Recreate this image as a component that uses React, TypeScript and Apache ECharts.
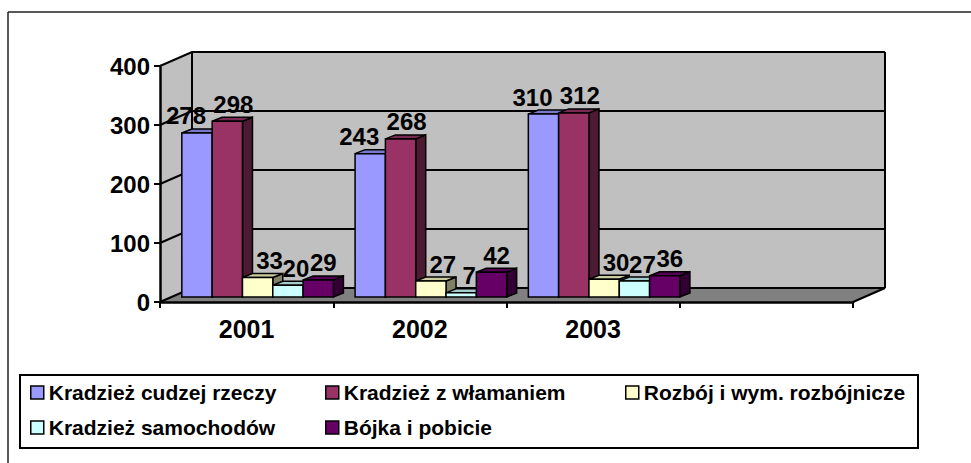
import React, { useEffect, useRef } from 'react';
import * as echarts from 'echarts';

const categories = ['2001', '2002', '2003', ''];
const seriesNames = [
  'Kradzież cudzej rzeczy',
  'Kradzież z włamaniem',
  'Rozbój i wym. rozbójnicze',
  'Kradzież samochodów',
  'Bójka i pobicie',
];
const kradziezCudzejRzeczy = [278, 243, 310];
const kradziezZWlamaniem = [298, 268, 312];
const rozbojIWym = [33, 27, 30];
const kradziezSamochodow = [20, 7, 27];
const bojkaIPobicie = [29, 42, 36];
const yTickValues = [0, 100, 200, 300, 400];
const seriesColors = ['#9999FF', '#993366', '#FFFFCC', '#CCFFFF', '#660066'];

const allValues = [kradziezCudzejRzeczy, kradziezZWlamaniem, rozbojIWym, kradziezSamochodow, bojkaIPobicie];

const FONT = '"Liberation Sans", Arial, sans-serif';
const FRONT_DX = 11;
const FRONT_DY = -5;
const BAR_DX = 10;
const BAR_DY = -4;
const WALL_DX = 32;
const WALL_DY = -14;
// horizontal nudge of each series' value labels (style, not data)
const LABEL_SHIFT = [-11, 6, 12, 8, 5];

function shade(hex: string, f: number): string {
  const n = parseInt(hex.slice(1), 16);
  const r = Math.round(((n >> 16) & 255) * f);
  const g = Math.round(((n >> 8) & 255) * f);
  const b = Math.round((n & 255) * f);
  return `rgb(${r},${g},${b})`;
}

export default function App() {
  const ref = useRef<HTMLDivElement>(null);
  useEffect(() => {
    if (!ref.current) return;
    const chart = echarts.init(ref.current, null, { renderer: 'svg' });

    const wallSeries: any = {
      type: 'custom',
      name: 'walls',
      z: 1,
      silent: true,
      clip: false,
      data: [[0, 0]],
      encode: { x: 0, y: 1 },
      renderItem: (params: any, api: any) => {
        const cs = params.coordSys;
        const cx = cs.x, cy = cs.y, cw = cs.width, ch = cs.height;
        const children: any[] = [];
        const stroke = { stroke: '#000', lineWidth: 2, fill: 'none' };
        children.push({
          type: 'polygon',
          shape: { points: [[cx, cy], [cx + WALL_DX, cy + WALL_DY], [cx + WALL_DX, cy + ch + WALL_DY], [cx, cy + ch]] },
          style: { fill: '#C0C0C0' },
        });
        children.push({
          type: 'rect',
          shape: { x: cx + WALL_DX, y: cy + WALL_DY, width: cw, height: ch },
          style: { fill: '#C0C0C0' },
        });
        children.push({
          type: 'polygon',
          shape: { points: [[cx, cy + ch], [cx + cw, cy + ch], [cx + cw + WALL_DX, cy + ch + WALL_DY], [cx + WALL_DX, cy + ch + WALL_DY]] },
          style: { fill: '#808080' },
        });
        yTickValues.forEach((v) => {
          if (v === 0) return;
          const y = api.coord([0, v])[1];
          children.push({
            type: 'polyline',
            shape: { points: [[cx, y], [cx + WALL_DX, y + WALL_DY], [cx + cw + WALL_DX, y + WALL_DY]] },
            style: stroke,
          });
        });
        children.push({
          type: 'polyline',
          shape: { points: [[cx + WALL_DX, cy + WALL_DY], [cx + WALL_DX, cy + ch + WALL_DY]] },
          style: stroke,
        });
        children.push({
          type: 'polyline',
          shape: { points: [[cx + cw + WALL_DX, cy + WALL_DY], [cx + cw + WALL_DX, cy + ch + WALL_DY]] },
          style: stroke,
        });
        children.push({
          type: 'polyline',
          shape: { points: [[cx, cy + ch], [cx + WALL_DX, cy + ch + WALL_DY], [cx + cw + WALL_DX, cy + ch + WALL_DY], [cx + cw, cy + ch]] },
          style: stroke,
        });
        return { type: 'group', children };
      },
    };

    const barSeries = seriesNames.map((name, k) => {
      const color = seriesColors[k];
      const topColor = shade(color, 0.8);
      const sideColor = shade(color, 0.5);
      return {
        type: 'custom',
        name,
        z: 2,
        clip: false,
        itemStyle: { color, borderColor: '#000', borderWidth: 1.5 },
        encode: { x: 0, y: 1 },
        data: allValues[k].map((v, i) => [i, v]),
        renderItem: (params: any, api: any) => {
          const ci = api.value(0);
          const v = api.value(1);
          const base = api.coord([ci, 0]);
          const top = api.coord([ci, v]);
          const band = api.size([1, 0])[0];
          const bw = (band * 0.875) / 5;
          const x0 = base[0] - bw * 2.5 + k * bw + FRONT_DX;
          const yb = base[1] + FRONT_DY;
          const yt = top[1] + FRONT_DY;
          const ln = { stroke: '#000', lineWidth: 1.5 };
          return {
            type: 'group',
            children: [
              {
                type: 'polygon',
                shape: { points: [[x0 + bw, yt], [x0 + bw, yb], [x0 + bw + BAR_DX, yb + BAR_DY], [x0 + bw + BAR_DX, yt + BAR_DY]] },
                style: { fill: sideColor, ...ln },
              },
              {
                type: 'polygon',
                shape: { points: [[x0, yt], [x0 + bw, yt], [x0 + bw + BAR_DX, yt + BAR_DY], [x0 + BAR_DX, yt + BAR_DY]] },
                style: { fill: topColor, ...ln },
              },
              {
                type: 'rect',
                shape: { x: x0, y: yt, width: bw, height: yb - yt },
                style: { fill: color, ...ln },
              },
              {
                type: 'text',
                z2: 100,
                style: {
                  text: String(v),
                  x: x0 + bw / 2 + LABEL_SHIFT[k],
                  y: yt + BAR_DY - 1,
                  align: 'center',
                  verticalAlign: 'bottom',
                  fontSize: 24,
                  fontWeight: 'bold',
                  fontFamily: FONT,
                  fill: '#000',
                },
              },
            ],
          };
        },
      };
    });

    const legendCommon = {
      orient: 'vertical',
      top: 382,
      padding: 0,
      itemGap: 14,
      itemWidth: 13,
      itemHeight: 13,
      icon: 'rect',
      itemStyle: { borderColor: '#000', borderWidth: 1.5 },
      textStyle: { fontSize: 21, fontWeight: 'bold', fontFamily: FONT, color: '#000', lineHeight: 21, padding: [0, 0, 0, 0] },
      selectedMode: false,
    };

    chart.setOption({
      animation: false,
      backgroundColor: '#fff',
      grid: { left: 160, top: 66, width: 693, height: 236, containLabel: false },
      xAxis: {
        type: 'category',
        data: categories,
        z: 10,
        axisLine: { show: true, lineStyle: { color: '#000', width: 2.5 } },
        axisTick: { show: true, length: 6, interval: 0, alignWithLabel: false, lineStyle: { color: '#000', width: 2 } },
        axisLabel: { fontSize: 25, fontWeight: 'bold', fontFamily: FONT, color: '#000', margin: 14, interval: 0 },
        splitLine: { show: false },
      },
      yAxis: {
        type: 'value',
        min: 0,
        max: 400,
        interval: 100,
        z: 10,
        axisLine: { show: true, lineStyle: { color: '#000', width: 2.5 } },
        axisTick: { show: true, length: 6, lineStyle: { color: '#000', width: 2 } },
        axisLabel: { fontSize: 24, fontWeight: 'bold', fontFamily: FONT, color: '#000', margin: 10 },
        splitLine: { show: false },
      },
      legend: [
        { ...legendCommon, left: 30, data: [seriesNames[0], seriesNames[3]] },
        { ...legendCommon, left: 325, data: [seriesNames[1], seriesNames[4]] },
        { ...legendCommon, left: 625, data: [seriesNames[2]] },
      ],
      graphic: [
        { type: 'rect', shape: { x: 20, y: 375, width: 898, height: 73 }, style: { fill: 'none', stroke: '#000', lineWidth: 2 } },
        { type: 'line', shape: { x1: 8, y1: 12, x2: 971, y2: 12 }, style: { stroke: '#222', lineWidth: 1.5 } },
        { type: 'line', shape: { x1: 8, y1: 12, x2: 8, y2: 463 }, style: { stroke: '#222', lineWidth: 1.5 } },
      ],
      series: [wallSeries, ...barSeries],
    });
    return () => chart.dispose();
  }, []);
  return <div ref={ref} style={{ position: 'fixed', left: 0, top: 0, width: 971, height: 463 }} />;
}
